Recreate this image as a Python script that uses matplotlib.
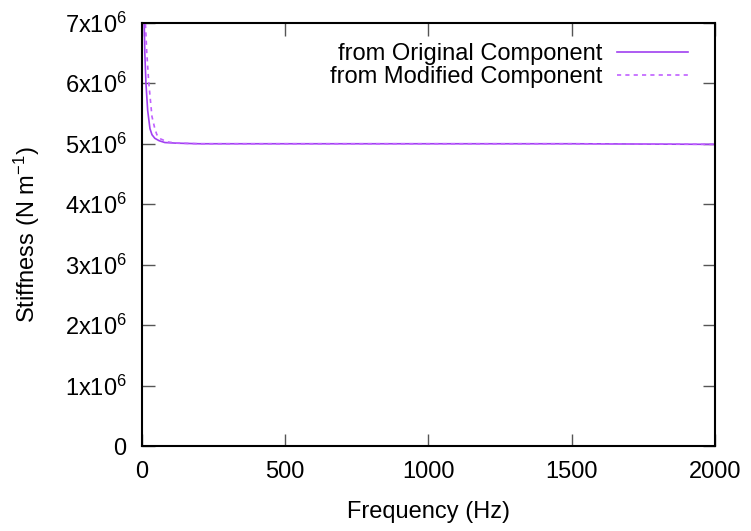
import matplotlib.pyplot as plt

plt.rcParams['font.family'] = ['Liberation Sans', 'DejaVu Sans']
plt.rcParams['mathtext.fontset'] = 'custom'
plt.rcParams['mathtext.rm'] = 'Liberation Sans'
plt.rcParams['mathtext.it'] = 'Liberation Sans'

# frequency (Hz) and stiffness (N/m)
freq_orig = [4, 8, 10, 14, 20, 28, 35, 45, 60, 80, 120, 200, 500, 1000, 1500, 2000]
stiff_orig = [1.0e7, 7.0e6, 6.5e6, 6.0e6, 5.55e6, 5.25e6, 5.15e6, 5.09e6, 5.05e6,
              5.02e6, 5.01e6, 5.0e6, 5.0e6, 5.0e6, 5.0e6, 4.99e6]
freq_mod = [4, 12, 17, 24, 30, 35, 45, 52, 65, 90, 120, 200, 500, 1000, 1500, 2000]
stiff_mod = [1.2e7, 7.0e6, 6.5e6, 6.0e6, 5.7e6, 5.45e6, 5.25e6, 5.15e6, 5.08e6,
             5.03e6, 5.01e6, 5.0e6, 5.0e6, 5.0e6, 5.0e6, 4.99e6]

y_ticks = [0, 1e6, 2e6, 3e6, 4e6, 5e6, 6e6, 7e6]
y_labels = ['0'] + [f'{i}x10$^{{6}}$' for i in range(1, 8)]
x_ticks = [0, 500, 1000, 1500, 2000]

fig = plt.figure(figsize=(7.51, 5.31), dpi=100)
ax = fig.add_axes([0.189, 0.160, 0.763, 0.797])

ax.plot(freq_orig, stiff_orig, color='#a040f0', lw=1.2, label='from Original Component')
ax.plot(freq_mod, stiff_mod, color='#c060ff', lw=1.2, ls=(0, (2.5, 2.5)),
        label='from Modified Component')

ax.set_xlim(0, 2000)
ax.set_ylim(0, 7e6)
ax.set_xticks(x_ticks)
ax.set_yticks(y_ticks)
ax.set_yticklabels(y_labels)
ax.tick_params(direction='in', length=9, width=1, top=True, right=True,
               labelsize=17, color='#555555')
ax.tick_params(axis='y', pad=11)
ax.tick_params(axis='x', pad=11)
for s in ax.spines.values():
    s.set_linewidth(1.5)

ax.set_xlabel('Frequency (Hz)', fontsize=17, labelpad=13)
ax.set_ylabel('Stiffness (N m$^{-1}$)', fontsize=17, labelpad=16)

ax.legend(loc='upper right', bbox_to_anchor=(1.0, 1.017), frameon=False,
          markerfirst=False, fontsize=17, handlelength=3.0, handletextpad=0.6,
          borderaxespad=0.85, borderpad=0.3, labelspacing=0.05)

fig.savefig('out.png', dpi=100)
